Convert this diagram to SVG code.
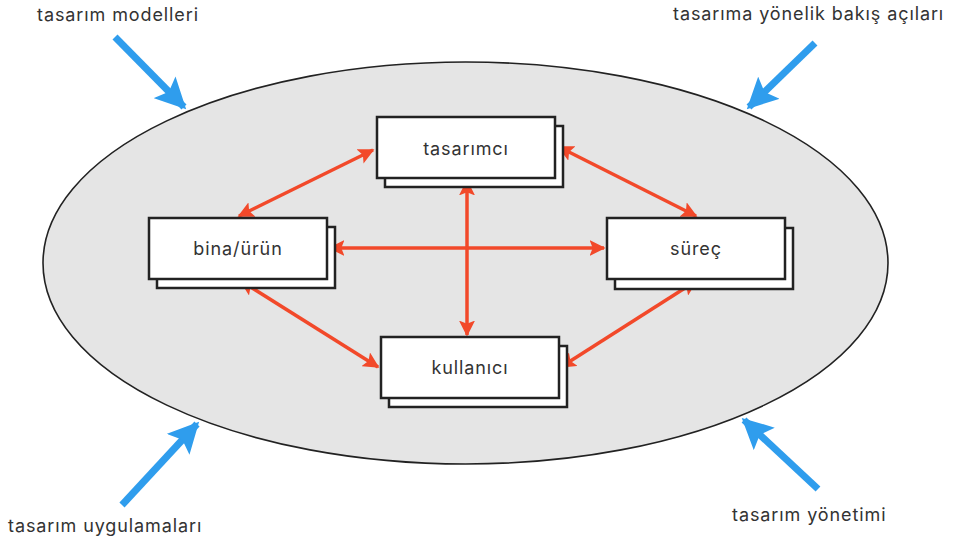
<svg xmlns="http://www.w3.org/2000/svg" width="956" height="542" viewBox="0 0 956 542">
  <style>
    .lbl { font-family: Inter, "Noto Sans", "Liberation Sans", sans-serif; font-size: 18px; letter-spacing: 0.9px; fill: #333333; }
    .node-text { font-family: Inter, "Noto Sans", "Liberation Sans", sans-serif; font-size: 18px; letter-spacing: 0.9px; fill: #333333; text-anchor: middle; }
    .box { fill: #ffffff; stroke: #222222; stroke-width: 2.5; }
    .rel { stroke: #f2492a; stroke-width: 3.5; fill: none; marker-start: url(#redHead); marker-end: url(#redHead); }
    .inflow { stroke: #2f9ded; stroke-width: 7; fill: none; marker-end: url(#blueHead); }
  </style>
  <defs>
    <marker id="redHead" viewBox="0 0 10 10" refX="9" refY="5" markerWidth="4.6" markerHeight="4.6" markerUnits="strokeWidth" orient="auto-start-reverse">
      <path d="M0,0 L10,5 L0,10 L2,5 Z" fill="#f2492a"/>
    </marker>
    <marker id="blueHead" viewBox="0 0 10 10" refX="9" refY="5" markerWidth="4.4" markerHeight="4.4" markerUnits="strokeWidth" orient="auto">
      <path d="M0,0 L10,5 L0,10 L2,5 Z" fill="#2f9ded"/>
    </marker>
  </defs>

  <rect width="956" height="542" fill="#ffffff"/>

  <!-- context ellipse -->
  <ellipse id="context" cx="465.5" cy="263" rx="422.5" ry="201" fill="#e5e5e5" stroke="#222222" stroke-width="1.6"/>

  <!-- incoming influences -->
  <g id="influences">
    <line class="inflow" x1="115" y1="37" x2="184" y2="107"/>
    <line class="inflow" x1="815" y1="43" x2="749" y2="107"/>
    <line class="inflow" x1="122" y1="505" x2="197" y2="424"/>
    <line class="inflow" x1="818" y1="489" x2="744" y2="420"/>
  </g>

  <g id="labels">
    <text class="lbl" x="37" y="21">tasarım modelleri</text>
    <text class="lbl" x="673" y="20">tasarıma yönelik bakış açıları</text>
    <text class="lbl" x="8" y="532">tasarım uygulamaları</text>
    <text class="lbl" x="732" y="521">tasarım yönetimi</text>
  </g>

  <!-- relations between the four elements -->
  <g id="connectors">
    <line class="rel" x1="373" y1="150" x2="239" y2="216"/>
    <line class="rel" x1="559" y1="147" x2="696" y2="216"/>
    <line class="rel" x1="467" y1="181" x2="467" y2="335"/>
    <line class="rel" x1="330" y1="248" x2="604" y2="248"/>
    <line class="rel" x1="241" y1="281" x2="378" y2="367"/>
    <line class="rel" x1="696" y1="281" x2="561" y2="367"/>
  </g>

  <g id="tasarimci">
    <rect class="box" x="385" y="126" width="178" height="61"/>
    <rect class="box" x="377" y="117" width="178" height="61"/>
    <text class="node-text" x="466" y="155">tasarımcı</text>
  </g>

  <g id="bina-urun">
    <rect class="box" x="157" y="227" width="178" height="61"/>
    <rect class="box" x="149" y="218" width="178" height="61"/>
    <text class="node-text" x="238" y="255">bina/ürün</text>
  </g>

  <g id="surec">
    <rect class="box" x="615" y="228" width="178" height="61"/>
    <rect class="box" x="607" y="218" width="178" height="61"/>
    <text class="node-text" x="696" y="255">süreç</text>
  </g>

  <g id="kullanici">
    <rect class="box" x="389" y="346" width="178" height="61"/>
    <rect class="box" x="381" y="337" width="178" height="61"/>
    <text class="node-text" x="470" y="374">kullanıcı</text>
  </g>
</svg>
